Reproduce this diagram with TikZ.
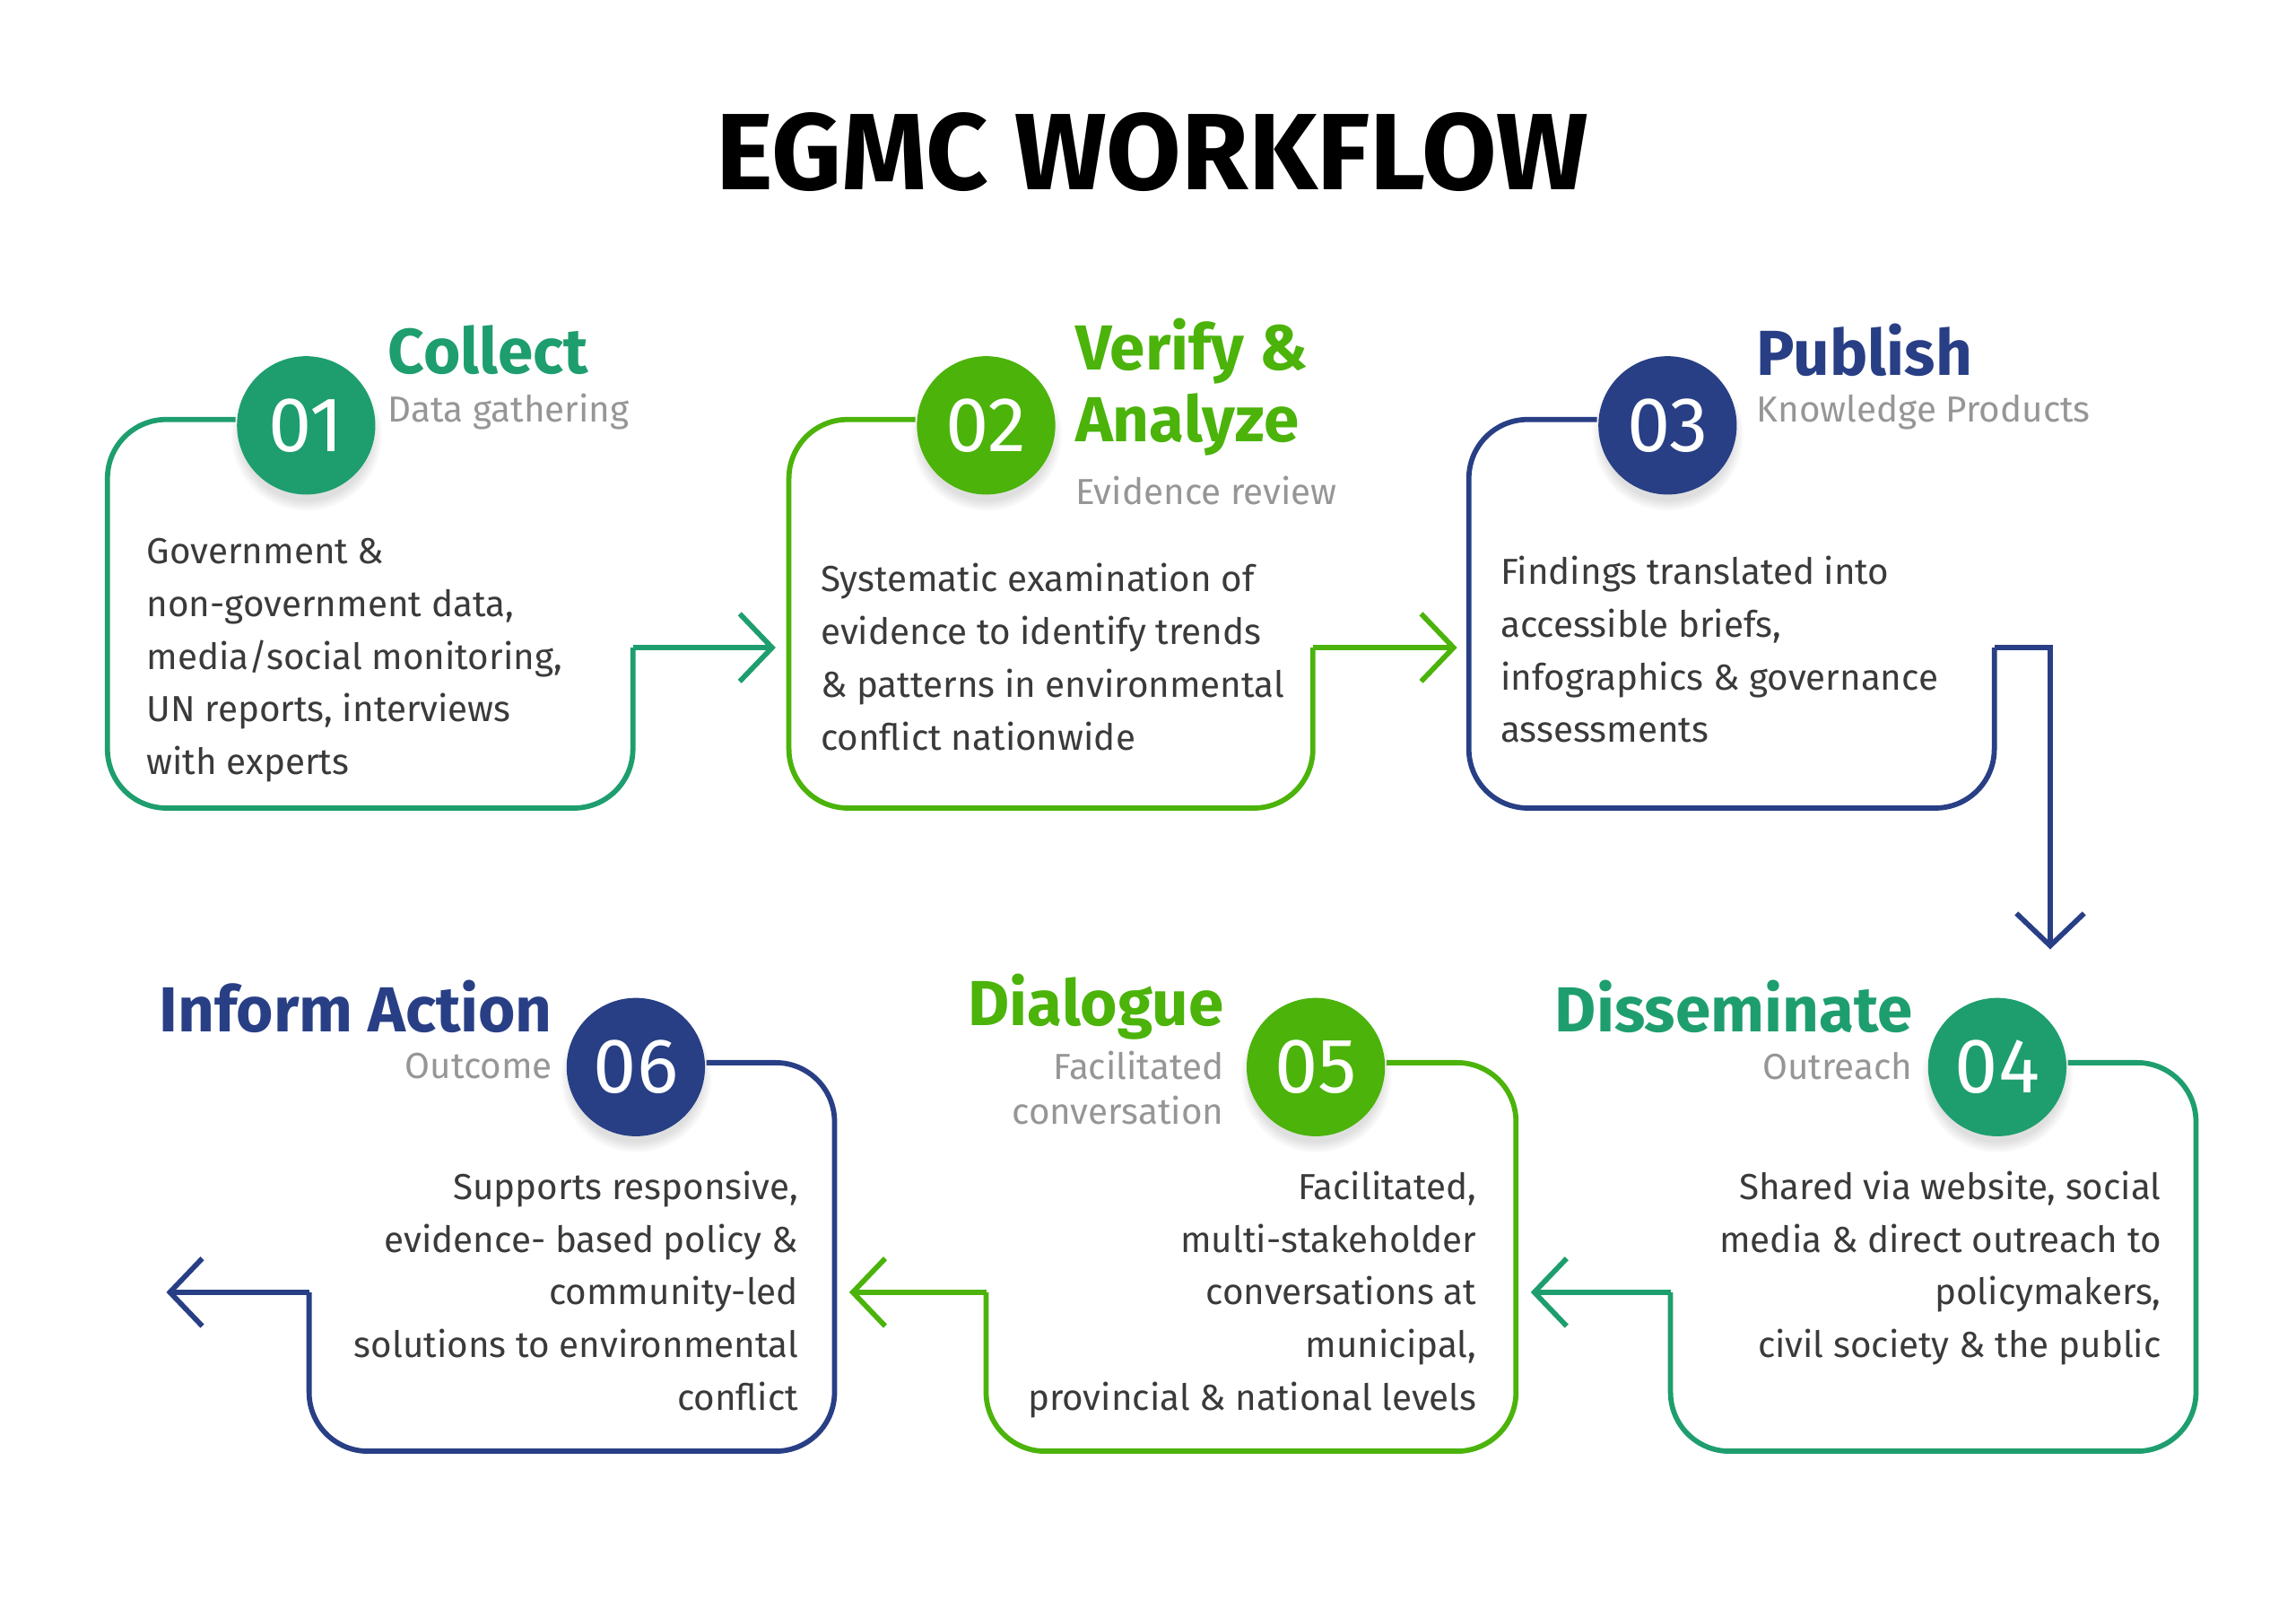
\documentclass[tikz,border=0pt]{standalone}
\usepackage{fontspec}
\setmainfont{Fira Sans}
\usetikzlibrary{arrows.meta,shadows,positioning}
\definecolor{flowteal}{RGB}{30,158,110}
\definecolor{flowlime}{RGB}{75,179,10}
\definecolor{flownavy}{RGB}{40,63,133}
\definecolor{bodygrey}{RGB}{58,58,58}
\definecolor{subgrey}{RGB}{150,150,150}
\tikzset{
  frame/.style={line width=1pt, rounded corners=4mm},
  link/.style={line width=1pt, -{Straight Barb[length=2.2mm,width=4.6mm]}},
  badge/.style={circle, minimum size=9.4mm, inner sep=0pt, text=white,
    font=\fontsize{15}{15}\selectfont,
    circular drop shadow={shadow xshift=0pt, shadow yshift=-0.6mm, opacity=0.25}},
  headline/.style={font=\fontsize{12.3}{14}\selectfont\bfseries, inner sep=0pt},
  subline/.style={font=\fontsize{7}{8.6}\selectfont, text=subgrey, inner sep=0pt},
  bodytext/.style={font=\fontsize{7}{10.2}\selectfont, text=bodygrey, inner sep=0pt}
}
\begin{document}
\begin{tikzpicture}
  \useasboundingbox (0,0) rectangle (15.6,-10.87);
  % Title
  \node[font=\fontsize{21}{24}\selectfont\bfseries] (title) at (7.83,-1.03) {EGMC WORKFLOW};

  % Step 01
  \draw[frame, flowteal] (1.60,-2.85) -- (0.73,-2.85) -- (0.73,-5.49) -- (4.30,-5.49) -- (4.30,-4.40);
  \draw[link, flowteal] (4.30,-4.40) -- (5.27,-4.40);
  \node[badge, fill=flowteal] (b1) at (2.08,-2.89) {01};
  \node[headline, text=flowteal, anchor=west] (h1) at (2.63,-2.38) {Collect};
  \node[subline, anchor=west] (s1) at (2.63,-2.80) {Data gathering};
  \node[bodytext, align=left, anchor=north west] (t1) at (0.99,-3.65)
    {Government \&\\non-government data,\\media/social monitoring,\\UN reports, interviews\\with experts};

  % Step 02
  \draw[frame, flowlime] (6.22,-2.85) -- (5.36,-2.85) -- (5.36,-5.49) -- (8.92,-5.49) -- (8.92,-4.40);
  \draw[link, flowlime] (8.92,-4.40) -- (9.90,-4.40);
  \node[badge, fill=flowlime] (b2) at (6.70,-2.89) {02};
  \node[headline, text=flowlime, anchor=west, align=left] (h2) at (7.30,-2.63) {Verify \&\\Analyze};
  \node[subline, anchor=west] (s2) at (7.30,-3.33) {Evidence review};
  \node[bodytext, align=left, anchor=north west] (t2) at (5.57,-3.82)
    {Systematic examination of\\evidence to identify trends\\\& patterns in environmental\\conflict nationwide};

  % Step 03
  \draw[frame, flownavy] (10.85,-2.85) -- (9.98,-2.85) -- (9.98,-5.49) -- (13.55,-5.49) -- (13.55,-4.40);
  \draw[link, flownavy] (13.55,-4.40) -- (13.93,-4.40) -- (13.93,-6.45);
  \node[badge, fill=flownavy] (b3) at (11.33,-2.89) {03};
  \node[headline, text=flownavy, anchor=west] (h3) at (11.93,-2.38) {Publish};
  \node[subline, anchor=west] (s3) at (11.93,-2.80) {Knowledge Products};
  \node[bodytext, align=left, anchor=north west] (t3) at (10.19,-3.77)
    {Findings translated into\\accessible briefs,\\infographics \& governance\\assessments};

  % Step 04
  \draw[frame, flowteal] (14.05,-7.22) -- (14.92,-7.22) -- (14.92,-9.86) -- (11.35,-9.86) -- (11.35,-8.78);
  \draw[link, flowteal] (11.35,-8.78) -- (10.40,-8.78);
  \node[badge, fill=flowteal] (b4) at (13.57,-7.25) {04};
  \node[headline, text=flowteal, anchor=east] (h4) at (13.00,-6.84) {Disseminate};
  \node[subline, anchor=east] (s4) at (13.00,-7.24) {Outreach};
  \node[bodytext, align=right, anchor=north east] (t4) at (14.69,-7.95)
    {Shared via website, social\\media \& direct outreach to\\policymakers,\\civil society \& the public};

  % Step 05
  \draw[frame, flowlime] (9.42,-7.22) -- (10.30,-7.22) -- (10.30,-9.86) -- (6.70,-9.86) -- (6.70,-8.78);
  \draw[link, flowlime] (6.70,-8.78) -- (5.77,-8.78);
  \node[badge, fill=flowlime] (b5) at (8.94,-7.25) {05};
  \node[headline, text=flowlime, anchor=east] (h5) at (8.32,-6.84) {Dialogue};
  \node[subline, anchor=east, align=right] (s5) at (8.32,-7.39) {Facilitated\\conversation};
  \node[bodytext, align=right, anchor=north east] (t5) at (10.04,-7.95)
    {Facilitated,\\multi-stakeholder\\conversations at\\municipal,\\provincial \& national levels};

  % Step 06
  \draw[frame, flownavy] (4.80,-7.22) -- (5.67,-7.22) -- (5.67,-9.86) -- (2.10,-9.86) -- (2.10,-8.78);
  \draw[link, flownavy] (2.10,-8.78) -- (1.13,-8.78);
  \node[badge, fill=flownavy] (b6) at (4.32,-7.25) {06};
  \node[headline, text=flownavy, anchor=east] (h6) at (3.76,-6.84) {Inform Action};
  \node[subline, anchor=east] (s6) at (3.76,-7.24) {Outcome};
  \node[bodytext, align=right, anchor=north east] (t6) at (5.43,-7.95)
    {Supports responsive,\\evidence- based policy \&\\community-led\\solutions to environmental\\conflict};
\end{tikzpicture}
\end{document}
